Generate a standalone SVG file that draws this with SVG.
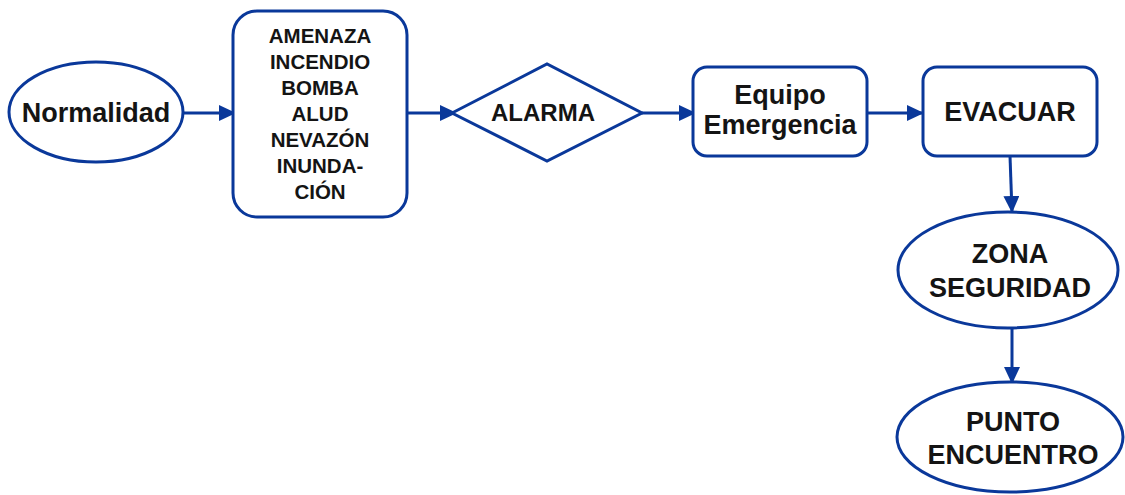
<svg xmlns="http://www.w3.org/2000/svg" width="1125" height="495" viewBox="0 0 1125 495">
<defs>
<style>
.n{fill:#fff;stroke:#0a389a;stroke-width:3}
.c{fill:none;stroke:#0a389a;stroke-width:3}
text{font-family:"Liberation Sans",Arial,sans-serif;font-weight:bold;fill:#141414;text-anchor:middle}
</style>
<marker id="ah" markerWidth="17" markerHeight="16" refX="16" refY="8" orient="auto" markerUnits="userSpaceOnUse">
<path d="M0,0 L17,8 L0,16 Z" fill="#0a389a"/>
</marker>
</defs>
<rect width="1125" height="495" fill="#fff"/>
<g id="connectors">
<line class="c" x1="183" y1="113" x2="235" y2="113" marker-end="url(#ah)"/>
<line class="c" x1="407" y1="113" x2="456" y2="113" marker-end="url(#ah)"/>
<line class="c" x1="642" y1="113" x2="695" y2="113" marker-end="url(#ah)"/>
<line class="c" x1="867" y1="113" x2="923" y2="113" marker-end="url(#ah)"/>
<line class="c" x1="1010" y1="156" x2="1012" y2="212" marker-end="url(#ah)"/>
<line class="c" x1="1012" y1="327" x2="1012" y2="383" marker-end="url(#ah)"/>
</g>
<g id="normalidad">
<ellipse class="n" cx="96" cy="112" rx="87" ry="50"/>
<text x="96" y="122" font-size="27">Normalidad</text>
</g>
<g id="amenaza">
<rect class="n" x="233" y="11" width="174" height="206" rx="24"/>
<text font-size="20.5"><tspan x="320" y="43">AMENAZA</tspan><tspan x="320" y="69">INCENDIO</tspan><tspan x="320" y="95">BOMBA</tspan><tspan x="320" y="121">ALUD</tspan><tspan x="320" y="147">NEVAZÓN</tspan><tspan x="320" y="173">INUNDA-</tspan><tspan x="320" y="199">CIÓN</tspan></text>
</g>
<g id="alarma">
<polygon class="n" points="452,113 547,64 642,113 547,161"/>
<text x="543" y="121" font-size="24">ALARMA</text>
</g>
<g id="equipo">
<rect class="n" x="693" y="67" width="174" height="89" rx="14"/>
<text font-size="27"><tspan x="780" y="104">Equipo</tspan><tspan x="780" y="134">Emergencia</tspan></text>
</g>
<g id="evacuar">
<rect class="n" x="923" y="67" width="174" height="89" rx="14"/>
<text x="1010" y="121" font-size="27">EVACUAR</text>
</g>
<g id="zona">
<ellipse class="n" cx="1008" cy="270" rx="110" ry="58"/>
<text font-size="27"><tspan x="1010" y="263">ZONA</tspan><tspan x="1010" y="297">SEGURIDAD</tspan></text>
</g>
<g id="punto">
<ellipse class="n" cx="1010" cy="437" rx="113" ry="55"/>
<text font-size="27"><tspan x="1013" y="431">PUNTO</tspan><tspan x="1013" y="464">ENCUENTRO</tspan></text>
</g>
</svg>
